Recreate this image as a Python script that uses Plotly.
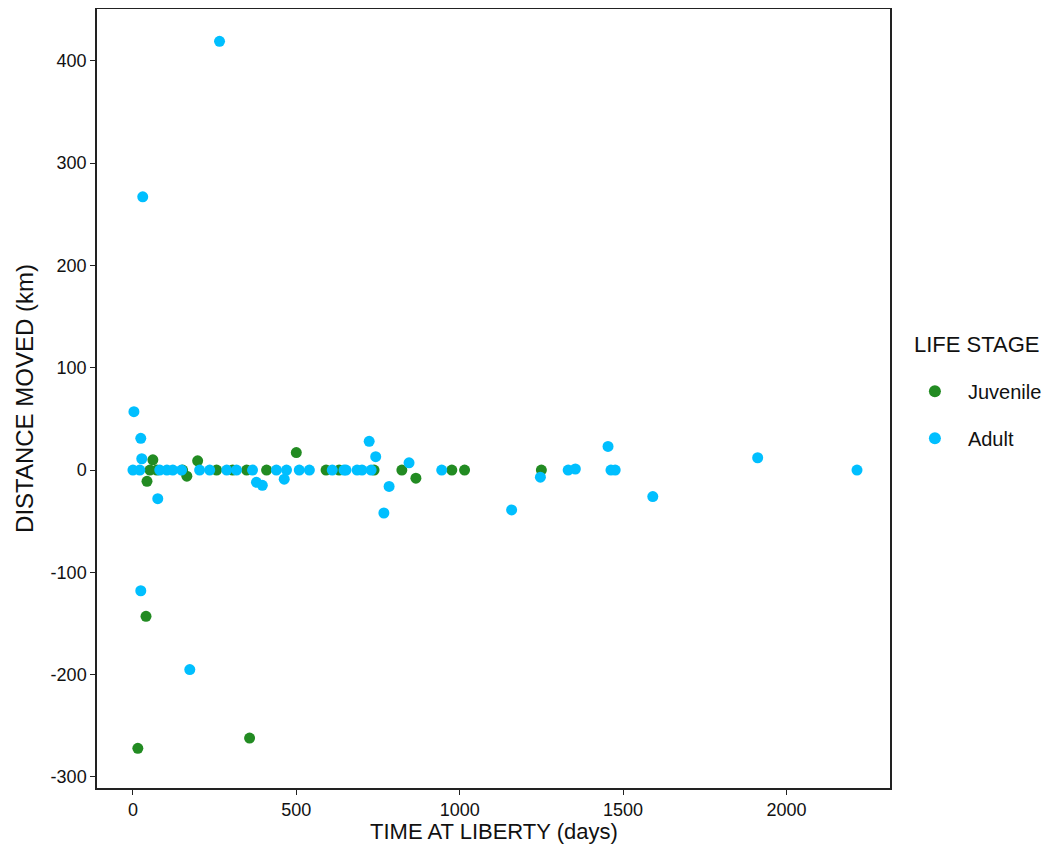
import plotly.graph_objects as go

# Juvenile
juv_days = [15, 40, 357, 43, 165, 198, 500, 61, 52, 73, 152, 256, 305, 348, 409,
            591, 631, 738, 823, 866, 976, 1015, 1250]
juv_dist = [-272, -143, -262, -11, -6, 9, 17, 10, 0, 0, 0, 0, 0, 0, 0,
            0, 0, 0, 0, -8, 0, 0, 0]

# Adult
adu_days = [265, 30, 3, 24, 24, 174, 76, 27, 396, 378, 463, 0, 21, 82, 104, 122,
            149, 204, 235, 287, 317, 366, 439, 470, 509, 540, 610, 652, 686, 723,
            743, 646, 701, 729, 845, 784, 768, 945, 1159, 1247, 1332, 1354, 1454,
            1463, 1476, 1591, 1912, 2216]
adu_dist = [419, 267, 57, 31, -118, -195, -28, 11, -15, -12, -9, 0, 0, 0, 0, 0,
            0, 0, 0, 0, 0, 0, 0, 0, 0, 0, 0, 0, 0, 28,
            13, 0, 0, 0, 7, -16, -42, 0, -39, -7, 0, 1, 23,
            0, 0, -26, 12, 0]

x_ticks = [0, 500, 1000, 1500, 2000]
y_ticks = [400, 300, 200, 100, 0, -100, -200, -300]
y_tick_text = ["400", "300", "200", "100", "0", "-100", "-200", "-300"]

FONT = "Liberation Sans, Arial, sans-serif"

fig = go.Figure()
fig.add_trace(go.Scatter(x=juv_days, y=juv_dist, mode="markers", name="Juvenile",
                         legendgroup="j",
                         marker=dict(color="#228B22", size=11, line=dict(width=0))))
fig.add_trace(go.Scatter(x=adu_days, y=adu_dist, mode="markers", name="Adult",
                         legendgroup="a",
                         marker=dict(color="#00BFFF", size=11, line=dict(width=0))))

axis_common = dict(showline=True, linecolor="#222", linewidth=1.5, mirror=True,
                   ticks="outside", ticklen=5, tickcolor="#222", tickwidth=1.2,
                   showgrid=False, zeroline=False, automargin=False,
                   tickfont=dict(family=FONT, size=18, color="#111"))

fig.update_layout(
    width=1040, height=841,
    margin=dict(l=89, r=155, t=1, b=61),
    paper_bgcolor="white", plot_bgcolor="white",
    font=dict(family=FONT, color="#111"),
    xaxis=dict(range=[-110, 2317], tickvals=x_ticks, **axis_common),
    yaxis=dict(range=[-310.8, 450.6], tickvals=y_ticks, ticktext=y_tick_text,
               title=dict(text="DISTANCE MOVED (km)", font=dict(size=24), standoff=10),
               **axis_common),
    legend=dict(font=dict(size=20), x=1.015, xanchor="left", y=0.479, yanchor="middle",
                tracegroupgap=18, itemsizing="constant", itemwidth=56),
    annotations=[
        dict(text="LIFE STAGE", xref="paper", yref="paper",
             x=1.0276, y=0.5687, xanchor="left", yanchor="middle",
             showarrow=False, font=dict(size=22, color="#111")),
        dict(text="TIME AT LIBERTY (days)", xref="paper", yref="paper",
             x=0.5, y=-0.0552, xanchor="center", yanchor="middle",
             showarrow=False, font=dict(size=22, color="#111")),
    ],
)

fig.write_html("out.html")
